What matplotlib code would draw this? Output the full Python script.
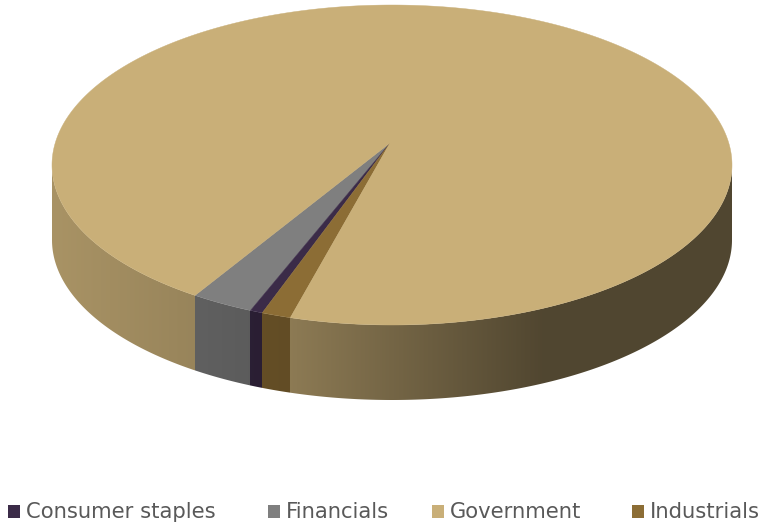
import numpy as np
import matplotlib
matplotlib.use("Agg")
import matplotlib.pyplot as plt
from matplotlib.patches import Polygon, Rectangle

categories = ["Consumer staples", "Financials", "Government", "Industrials"]
values = [0.6, 3.0, 95.0, 1.4]
colors = ["#3B2B48", "#7F7F7F", "#C9AF78", "#8C6D35"]

W, H = 764, 526
fig = plt.figure(figsize=(W / 100, H / 100), dpi=100)
ax = fig.add_axes([0, 0, 1, 1])
ax.set_xlim(0, W)
ax.set_ylim(H, 0)
ax.axis("off")

cx, cy, a, b = 392, 165, 340, 160
apex = (390, 143)
depth = 75

# angular layout (parametric angle, y pointing down), counter-clockwise on screen
order = ["Financials", "Consumer staples", "Industrials", "Government"]
start = 125.4
total = sum(values)
bounds = {}
t = start
for name in order:
    v = values[categories.index(name)]
    span = v / total * 360.0
    bounds[name] = (t - span, t)
    t -= span


def pt(tdeg, dy=0.0):
    r = np.radians(tdeg)
    return cx + a * np.cos(r), cy + b * np.sin(r) + dy


def slice_at(tdeg):
    for name, (lo, hi) in bounds.items():
        for k in (-360, 0, 360):
            if lo <= tdeg + k <= hi:
                return name
    return "Government"


def shade(tdeg):
    c = np.cos(np.radians(tdeg))
    return np.interp(c, [-1, -0.3, 0.45, 1], [0.84, 0.70, 0.40, 0.40])


# side wall as a column-wise gradient image clipped to the wall outline
ncol = 4 * W
xs = np.linspace(0, W, ncol)
img = np.ones((2, ncol, 4))
img[..., 3] = 0
for j, x in enumerate(xs):
    u = (x - cx) / a
    if -1 <= u <= 1:
        tm = np.degrees(np.arccos(u))
        name = slice_at(tm)
        base = np.array(matplotlib.colors.to_rgb(colors[categories.index(name)]))
        img[:, j, :3] = np.clip(base * shade(tm), 0, 1)
        img[:, j, 3] = 1
im = ax.imshow(img, extent=(0, W, H, 0), aspect="auto", interpolation="nearest",
               zorder=1)
ts = np.linspace(0, 180, 400)
outline = [pt(x) for x in ts] + [pt(x, depth) for x in ts[::-1]]
clip = Polygon(outline, closed=True, transform=ax.transData, facecolor="none",
               edgecolor="none")
ax.add_patch(clip)
im.set_clip_path(clip)

# top faces
for name, (lo, hi) in bounds.items():
    tt = np.linspace(lo, hi, max(3, int((hi - lo) * 4)))
    pts = [apex] + [pt(x) for x in tt]
    col = colors[categories.index(name)]
    ax.add_patch(Polygon(pts, closed=True, facecolor=col, edgecolor=col,
                         linewidth=0.3, zorder=2))

# legend
leg_x = [8, 268, 432, 632]
for i, name in enumerate(categories):
    ax.add_patch(Rectangle((leg_x[i], 505), 12, 13, facecolor=colors[i],
                           edgecolor="none"))
    ax.text(leg_x[i] + 18, 512, name, fontsize=15.2, color="#595959",
            va="center", ha="left", family="DejaVu Sans")

fig.savefig("out.png", dpi=100)
